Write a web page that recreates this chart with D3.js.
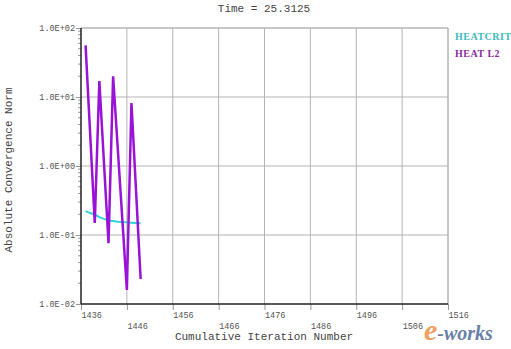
<!DOCTYPE html>
<html>
<head>
<meta charset="utf-8">
<script src="https://cdn.jsdelivr.net/npm/d3@7"></script>
<style>
  body { margin: 0; background: #fff; }
  text { font-family: "Liberation Mono", "DejaVu Sans Mono", monospace; }
</style>
</head>
<body>
<div id="chart"></div>
<script>
// convergence plot: two residual series on a log axis vs cumulative iteration

var title = 'Time = 25.3125';
var xLabel = 'Cumulative Iteration Number';
var yLabel = 'Absolute Convergence Norm';

// HEATCRIT series (cyan)
var critIter = [1437, 1438, 1439, 1440, 1441, 1442, 1443, 1444, 1445, 1446, 1447, 1448, 1449];
var critVals = [0.222, 0.208, 0.198, 0.182, 0.171, 0.162, 0.160, 0.156, 0.154, 0.153, 0.151, 0.149, 0.148];

// HEAT L2 series (purple)
var l2Iter = [1437, 1439, 1440, 1442, 1443, 1446, 1447, 1449];
var l2Vals = [56, 0.15, 17, 0.076, 20, 0.016, 8.2, 0.023];

var xTicks = [1436, 1446, 1456, 1466, 1476, 1486, 1496, 1506, 1516];
var yTicks = [1e-2, 1e-1, 1, 10, 100];
var yTickLabels = ['1.0E-02', '1.0E-01', '1.0E+00', '1.0E+01', '1.0E+02'];

var legendNames = ['HEATCRIT', 'HEAT L2'];

var width = 511;
var height = 349;
// plot box (note: "top" is a reserved window global, so prefix these)
var plotLeft = 81, plotRight = 448, plotTop = 28, plotBottom = 304;
var critColor = '#2fd3d8';
var l2Color = '#9a12d6';
var gridColor = '#b4b4b4';
var labelColor = '#555';

var svg = d3.select('#chart').append('svg')
      .attr('width', width)
      .attr('height', height);

var xScale = d3.scaleLinear()
      .domain([1436, 1516])
      .range([plotLeft, plotRight]);

var yScale = d3.scaleLog()
      .domain([1e-2, 1e2])
      .range([plotBottom, plotTop]);

// grid lines
svg.append('g').selectAll('line')
      .data(xTicks.slice(1))
      .enter().append('line')
      .attr('x1', d => xScale(d)).attr('x2', d => xScale(d))
      .attr('y1', plotTop).attr('y2', plotBottom)
      .attr('stroke', gridColor).attr('stroke-width', 1);

svg.append('g').selectAll('line')
      .data(yTicks.slice(1))
      .enter().append('line')
      .attr('x1', plotLeft).attr('x2', plotRight)
      .attr('y1', d => yScale(d)).attr('y2', d => yScale(d))
      .attr('stroke', gridColor).attr('stroke-width', 1);

// minor ticks on the log axis
var minor = [];
yTicks.slice(0, -1).forEach(function (t) {
      for (let k = 2; k <= 9; k++) minor.push(t * k);
});
svg.append('g').selectAll('line')
      .data(minor)
      .enter().append('line')
      .attr('x1', plotLeft - 3).attr('x2', plotLeft)
      .attr('y1', d => yScale(d)).attr('y2', d => yScale(d))
      .attr('stroke', '#999').attr('stroke-width', 1);

// y axis: major ticks and labels
var yAxis = d3.axisLeft(yScale)
      .tickValues(yTicks)
      .tickSize(5)
      .tickPadding(1)
      .tickFormat((d, i) => yTickLabels[i]);

var gy = svg.append('g')
      .attr('transform', 'translate(' + plotLeft + ',0)')
      .call(yAxis);
gy.select('.domain').remove();
gy.selectAll('line').attr('stroke', '#999');
gy.selectAll('text')
      .attr('fill', labelColor)
      .style('font-size', '8.5px')
      .style('font-family', '"Liberation Mono", monospace');

// x axis: ticks, labels staggered on two rows, left-aligned at the tick
var xAxis = d3.axisBottom(xScale)
      .tickValues(xTicks)
      .tickSize(6)
      .tickFormat(d3.format('d'));

var gx = svg.append('g')
      .attr('transform', 'translate(0,' + plotBottom + ')')
      .call(xAxis);
gx.select('.domain').remove();
gx.selectAll('line').attr('stroke', '#999');
gx.selectAll('text')
      .attr('fill', labelColor)
      .attr('text-anchor', 'start')
      .attr('x', 0)
      .attr('dy', null)
      .attr('y', (d, i) => i % 2 == 0 ? 14 : 25)
      .style('font-size', '8.5px')
      .style('font-family', '"Liberation Mono", monospace');

// frame: top/right gray, left/bottom black
svg.append('line').attr('x1', plotLeft).attr('x2', plotRight).attr('y1', plotTop).attr('y2', plotTop)
      .attr('stroke', gridColor);
svg.append('line').attr('x1', plotRight).attr('x2', plotRight).attr('y1', plotTop).attr('y2', plotBottom)
      .attr('stroke', gridColor);
svg.append('line').attr('x1', plotLeft).attr('x2', plotLeft).attr('y1', plotTop).attr('y2', plotBottom)
      .attr('stroke', '#222').attr('stroke-width', 1.5);
svg.append('line').attr('x1', plotLeft).attr('x2', plotRight).attr('y1', plotBottom).attr('y2', plotBottom)
      .attr('stroke', '#222').attr('stroke-width', 1.5);

// series
var line = d3.line()
      .x(d => xScale(d[0]))
      .y(d => yScale(d[1]));

svg.append('path')
      .datum(critIter.map((d, i) => [d, critVals[i]]))
      .attr('d', line)
      .attr('fill', 'none')
      .attr('stroke', critColor)
      .attr('stroke-width', 2);

svg.append('path')
      .datum(l2Iter.map((d, i) => [d, l2Vals[i]]))
      .attr('d', line)
      .attr('fill', 'none')
      .attr('stroke', l2Color)
      .attr('stroke-width', 2.5)
      .attr('stroke-linejoin', 'miter');

// titles
svg.append('text')
      .attr('x', 264).attr('y', 12)
      .attr('text-anchor', 'middle')
      .attr('fill', '#444')
      .style('font-size', '11px')
      .text(title);

svg.append('text')
      .attr('x', 264).attr('y', 340)
      .attr('text-anchor', 'middle')
      .attr('fill', '#444')
      .style('font-size', '11px')
      .text(xLabel);

svg.append('text')
      .attr('transform', 'rotate(-90)')
      .attr('x', -(plotTop + plotBottom) / 2 - 4)
      .attr('y', 12)
      .attr('text-anchor', 'middle')
      .attr('fill', '#444')
      .style('font-size', '11px')
      .text(yLabel);

// legend
svg.append('g').selectAll('text')
      .data(legendNames)
      .enter().append('text')
      .attr('x', 455)
      .attr('y', (d, i) => 40 + i * 17)
      .attr('fill', (d, i) => i == 0 ? '#3cbcbc' : '#8a2aa0')
      .style('font-size', '10px')
      .style('font-weight', 'bold')
      .style('font-family', '"Liberation Serif", serif')
      .style('letter-spacing', '0.5px')
      .text(d => d);

// watermark
var wm = svg.append('text')
      .attr('x', 424).attr('y', 340)
      .style('font-family', '"Liberation Serif", serif')
      .style('font-style', 'italic')
      .style('font-weight', 'bold');
wm.append('tspan').attr('fill', '#f0a060').style('font-size', '30px').text('e');
wm.append('tspan').attr('fill', '#6a7fa8').style('font-size', '20px').text('-works');
</script>
</body>
</html>
